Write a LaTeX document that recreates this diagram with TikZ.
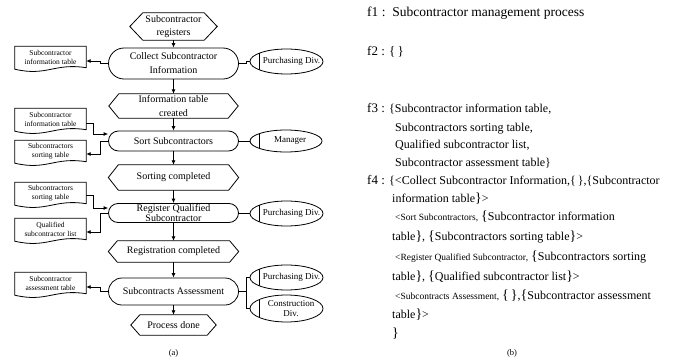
\documentclass[tikz,border=0pt]{standalone}
\usepackage{fontspec}
\setmainfont{Liberation Serif}
\usetikzlibrary{shapes.misc,shapes.geometric,arrows.meta}
\newcommand\myfs[2]{\fontsize{#1}{#2}\selectfont}
\newcommand\hexshape[2]{\draw[ln] (#1.west) -- ([xshift=#2]#1.north west) -- ([xshift=-#2]#1.north east) -- (#1.east) -- ([xshift=-#2]#1.south east) -- ([xshift=#2]#1.south west) -- cycle;}
\newcommand\docshape[1]{\draw[ln] ([yshift=-1.5pt]#1.south west) -- (#1.north west) -- (#1.north east) -- (#1.south east) .. controls ([xshift=-32pt,yshift=5pt]#1.south east) and ([xshift=32pt,yshift=-9pt]#1.south west) .. ([yshift=-1.5pt]#1.south west) -- cycle;}
\newcommand\BL{{\myfs{14}{14}\{}}
\newcommand\BR{{\myfs{14}{14}\}}}
\begin{document}
\begin{tikzpicture}[x=1pt,y=-1pt,
  ln/.style={line width=0.8pt},
  proc/.style={rounded rectangle, draw, line width=0.8pt, minimum width=130pt, inner sep=0pt, align=center, font=\myfs{10}{14}},
  proctext/.style={inner sep=0pt, align=center, font=\myfs{10}{9.5}},
  hexbox/.style={rectangle, inner sep=0pt, align=center, font=\myfs{10}{13.5}},
  docbox/.style={rectangle, inner sep=0pt, minimum width=71pt, minimum height=21pt, align=center, font=\myfs{7.5}{9}},
  actor/.style={ellipse, draw, line width=0.8pt, minimum width=73pt, inner sep=0pt,
    path picture={\draw[line width=0.8pt] ([xshift=9pt]path picture bounding box.south west) -- ([xshift=9pt]path picture bounding box.north west);}},
  actortext/.style={inner sep=0pt, align=center, font=\myfs{9}{10}},
  arr/.style={line width=0.8pt, -{Latex[length=4.5pt,width=4pt]}},
  txt/.style={anchor=base west, inner sep=0pt, font=\myfs{12}{14}},
  captxt/.style={inner sep=0pt, font=\myfs{8.5}{10}}
]
\useasboundingbox (0,0) rectangle (677,361);
% main flow
\node[hexbox, minimum width=87pt, minimum height=27pt] (start) at (173.5,26.5) {Subcontractor\\registers};
\hexshape{start}{13}
\node[proc, minimum height=31pt] (collect) at (173.5,63.5) {Collect Subcontractor\\Information};
\node[hexbox, minimum width=129pt, minimum height=24pt] (info) at (173.5,106) {Information table\\created};
\hexshape{info}{10}
\node[proc, minimum height=20pt] (sort) at (173.5,141) {Sort Subcontractors};
\node[hexbox, minimum width=130pt, minimum height=25pt] (sorted) at (173.5,177.5) {Sorting completed};
\hexshape{sorted}{10}
\node[proc, minimum height=19pt] (reg) at (173.5,213) {};
\node[proctext] (regtext) at (reg.center) {Register Qualified\\Subcontractor};
\node[hexbox, minimum width=130pt, minimum height=21pt] (regd) at (173.5,251.5) {Registration completed};
\hexshape{regd}{9}
\node[proc, minimum height=27pt] (assess) at (173.5,291.5) {Subcontracts Assessment};
\node[hexbox, minimum width=85pt, minimum height=20pt] (done) at (173.5,325) {Process done};
\hexshape{done}{9}
\draw[arr] (start.south) -- (collect.north);
\draw[arr] (collect.south) -- (info.north);
\draw[arr] (info.south) -- (sort.north);
\draw[arr] (sort.south) -- (sorted.north);
\draw[arr] (sorted.south) -- (reg.north);
\draw[arr] (reg.south) -- (regd.north);
\draw[arr] (regd.south) -- (assess.north);
\draw[arr] (assess.south) -- (done.north);
% documents
\node[docbox] (d1) at (50.5,57) {Subcontractor\\information table}; \docshape{d1}
\node[docbox] (d2) at (50.5,119) {Subcontractor\\information table}; \docshape{d2}
\node[docbox] (d3) at (50.5,151) {Subcontractors\\sorting table}; \docshape{d3}
\node[docbox] (d4) at (50.5,193) {Subcontractors\\sorting table}; \docshape{d4}
\node[docbox] (d5) at (50.5,229) {Qualified\\subcontractor list}; \docshape{d5}
\node[docbox] (d6) at (50.5,283) {Subcontractor\\assessment table}; \docshape{d6}
\draw[arr] (collect.west) -- ++(-8,0) |- ([yshift=-4pt]d1.east);
\draw[arr] ([yshift=-4pt]d2.east) -- ++(7,0) |- ([yshift=7pt]sort.west);
\draw[arr] (sort.west) -- ++(-8,0) |- ([yshift=-3pt]d3.east);
\draw[arr] ([yshift=-2pt]d4.east) -- ++(7,0) |- ([yshift=5pt]reg.west);
\draw[arr] (reg.west) -- ++(-8,0) |- ([yshift=-3pt]d5.east);
\draw[arr] (assess.west) -- ++(-8,0) |- ([yshift=-4pt]d6.east);
% actors
\node[actor, minimum height=25pt] (p1) at (286.5,61.5) {};
\node[actortext] at ([xshift=5pt]p1.center) {Purchasing Div.};
\node[actor, minimum width=72pt, minimum height=22pt] (man) at (286,141) {};
\node[actortext] at ([xshift=4pt]man.center) {Manager};
\node[actor, minimum height=25pt] (p2) at (286.5,213.5) {};
\node[actortext] at ([xshift=5pt]p2.center) {Purchasing Div.};
\node[actor, minimum height=25pt] (p3) at (286.5,277.5) {};
\node[actortext] at ([xshift=5pt]p3.center) {Purchasing Div.};
\node[actor, minimum height=27pt] (cd) at (286.5,308.5) {};
\node[actortext] at ([xshift=4.5pt]cd.center) {Construction\\Div.};
\draw[ln] (collect.east) -- ++(7,0) |- (p1.west);
\draw[ln] (sort.east) -- (sort.east -| man.west);
\draw[ln] (reg.east) -- (reg.east -| p2.west);
\draw[ln] (assess.east) -- ++(7,0) coordinate (bus);
\draw[ln] (bus) |- (p3.west);
\draw[ln] (bus) |- (cd.west);
\node[captxt] (capa) at (173.5,353) {(a)};
% right panel
\node[txt, font=\myfs{13.5}{15}] (f1) at (367,16.8) {f1 :\ \ Subcontractor management process};
\node[txt, font=\myfs{13}{15}] (f2) at (367,56) {f2 : \{\,\}};
\node[txt] (f3a) at (367,112) {{\myfs{13}{15}f3 : }\{Subcontractor information table,};
\node[txt] (f3b) at (395,131) {Subcontractors sorting table,};
\node[txt] (f3c) at (395,148) {Qualified subcontractor list,};
\node[txt] (f3d) at (395,166) {Subcontractor assessment table\}};
\node[txt] (f4a) at (367,184) {{\myfs{13}{15}f4 : }\{<Collect Subcontractor Information,\{\,\},\{Subcontractor};
\node[txt] (f4b) at (392,202.3) {information table\BR>};
\node[txt] (f4c) at (395,220.7) {{\myfs{9.5}{11}<Sort Subcontractors,} \BL Subcontractor information};
\node[txt] (f4d) at (392,240.7) {table\BR, \BL Subcontractors sorting table\BR>};
\node[txt] (f4e) at (395,260) {{\myfs{9.5}{11}<Register Qualified Subcontractor,} \BL Subcontractors sorting};
\node[txt] (f4f) at (392,280) {table\BR, \BL Qualified subcontractor list\BR>};
\node[txt] (f4g) at (395,299) {{\myfs{9.5}{11}<Subcontracts Assessment,} \BL\,\BR,\BL Subcontractor assessment};
\node[txt] (f4h) at (392,318) {table\BR>};
\node[txt] (f4i) at (392,337) {\BR};
\node[captxt] (capb) at (512,353) {(b)};
\end{tikzpicture}
\end{document}
